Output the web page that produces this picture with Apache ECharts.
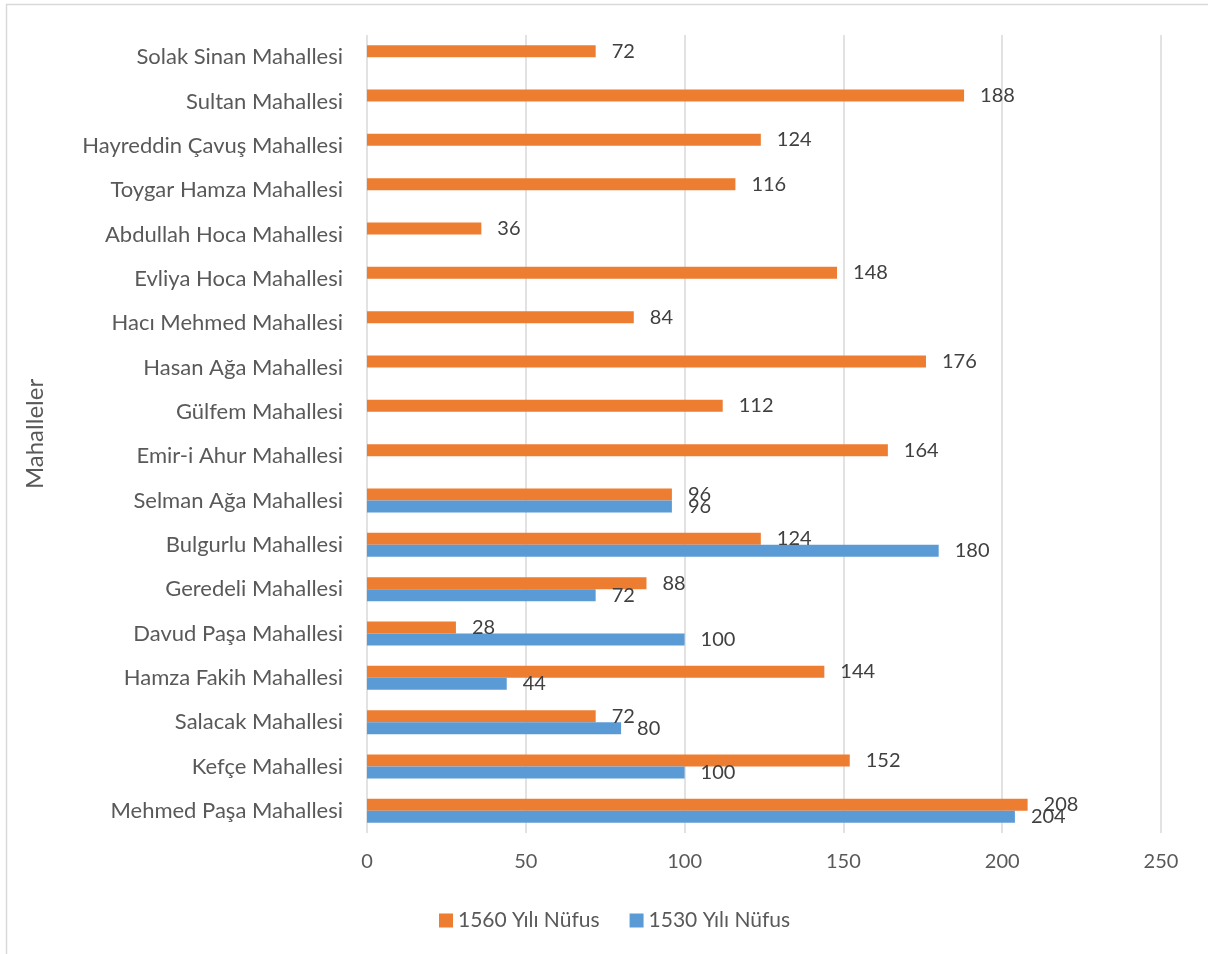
<!DOCTYPE html>
<html>
<head>
<meta charset="utf-8">
<script src="https://cdn.jsdelivr.net/npm/echarts@6/dist/echarts.min.js"></script>
<style>
  html, body { margin: 0; padding: 0; background: #fff; }
  #chart { width: 1208px; height: 954px; }
</style>
</head>
<body>
<div id="chart"></div>
<script>
// categories listed top to bottom as they appear in the picture
const mahalleler = [
  'Solak Sinan Mahallesi', 'Sultan Mahallesi', 'Hayreddin Çavuş Mahallesi',
  'Toygar Hamza Mahallesi', 'Abdullah Hoca Mahallesi', 'Evliya Hoca Mahallesi',
  'Hacı Mehmed Mahallesi', 'Hasan Ağa Mahallesi', 'Gülfem Mahallesi',
  'Emir-i Ahur Mahallesi', 'Selman Ağa Mahallesi', 'Bulgurlu Mahallesi',
  'Geredeli Mahallesi', 'Davud Paşa Mahallesi', 'Hamza Fakih Mahallesi',
  'Salacak Mahallesi', 'Kefçe Mahallesi', 'Mehmed Paşa Mahallesi'
]
const nufus1560 = [72, 188, 124, 116, 36, 148, 84, 176, 112, 164, 96, 124, 88, 28, 144, 72, 152, 208]
const nufus1530 = [null, null, null, null, null, null, null, null, null, null, 96, 180, 72, 100, 44, 80, 100, 204]
const seriesNames = ['1560 Yılı Nüfus', '1530 Yılı Nüfus']

const font = 'Lato, "Open Sans", sans-serif'
const chart = echarts.init(document.getElementById('chart'))

const labelStyle = {
  show: true,
  position: 'right',
  distance: 16,
  color: '#404040',
  fontSize: 20,
  fontFamily: font
}

chart.setOption({
  animation: false,
  color: ['#ED7D31', '#5B9BD5'],
  textStyle: { fontFamily: font },
  graphic: [{
    type: 'rect',
    shape: { x: 6.5, y: 4.5, width: 1300, height: 1000 },
    style: { fill: 'none', stroke: '#D9D9D9', lineWidth: 1.5 },
    silent: true
  }],
  grid: { left: 367, right: 47, top: 35, bottom: 121 },
  legend: {
    left: 434,
    top: 905,
    icon: 'rect',
    itemWidth: 14,
    itemHeight: 14,
    itemGap: 30,
    textStyle: { color: '#595959', fontSize: 21, fontFamily: font },
    data: seriesNames
  },
  xAxis: {
    type: 'value',
    min: 0,
    max: 250,
    interval: 50,
    axisLine: { show: false },
    axisTick: { show: false },
    axisLabel: { color: '#595959', fontSize: 20, fontFamily: font, margin: 19 },
    splitLine: { show: true, lineStyle: { color: '#D9D9D9', width: 1.5 } }
  },
  yAxis: {
    type: 'category',
    inverse: true,
    data: mahalleler,
    name: 'Mahalleler',
    nameLocation: 'middle',
    nameGap: 320,
    nameRotate: 90,
    nameTextStyle: { color: '#595959', fontSize: 24, fontFamily: font },
    axisLine: { show: false },
    axisTick: { show: false },
    axisLabel: { color: '#595959', fontSize: 22, fontFamily: font, margin: 24 }
  },
  series: [
    {
      name: seriesNames[0],
      type: 'bar',
      barWidth: 12,
      barGap: '0%',
      data: nufus1560,
      label: labelStyle
    },
    {
      name: seriesNames[1],
      type: 'bar',
      barWidth: 12,
      barGap: '0%',
      data: nufus1530,
      label: labelStyle
    }
  ]
})
</script>
</body>
</html>
